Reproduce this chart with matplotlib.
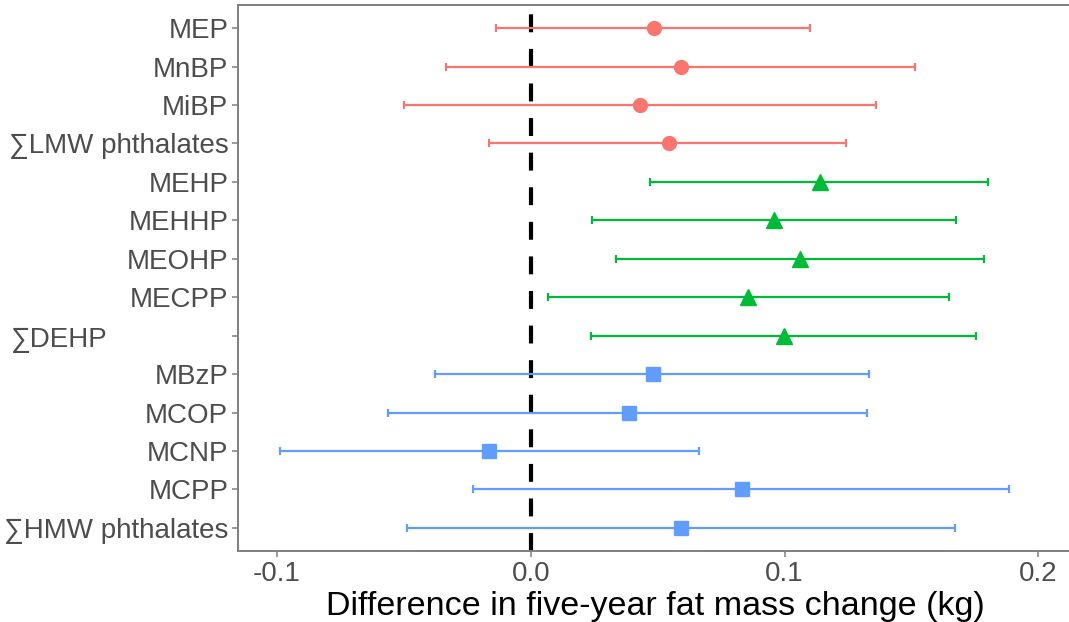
import matplotlib
matplotlib.use("Agg")
import matplotlib.pyplot as plt
from matplotlib.transforms import blended_transform_factory

plt.rcParams["font.family"] = ["Liberation Sans", "DejaVu Sans"]

# Phthalate metabolites, top to bottom
labels = ["MEP", "MnBP", "MiBP", "∑LMW phthalates",
          "MEHP", "MEHHP", "MEOHP", "MECPP", "∑DEHP",
          "MBzP", "MCOP", "MCNP", "MCPP", "∑HMW phthalates"]
groups = ["LMW"] * 4 + ["DEHP"] * 5 + ["HMW"] * 5

est = [0.0485, 0.0592, 0.0431, 0.0545,
       0.1138, 0.0959, 0.1062, 0.0857, 0.0997,
       0.0480, 0.0385, -0.0165, 0.0830, 0.0593]
lower = [-0.0137, -0.0334, -0.0500, -0.0164,
         0.0468, 0.0242, 0.0335, 0.0069, 0.0236,
         -0.0376, -0.0562, -0.0987, -0.0228, -0.0489]
upper = [0.1100, 0.1514, 0.1360, 0.1240,
         0.1800, 0.1674, 0.1784, 0.1647, 0.1755,
         0.1334, 0.1323, 0.0661, 0.1882, 0.1670]

colores = {"LMW": "#F8766D", "DEHP": "#00BA38", "HMW": "#619CFF"}
marcadores = {"LMW": ("o", 10), "DEHP": ("^", 11), "HMW": ("s", 9.5)}

fig = plt.figure(figsize=(10.69, 6.22), dpi=100)
ax = fig.add_axes([238 / 1069, 71 / 622, 835 / 1069, 546 / 622])

n = len(labels)
for i in range(n):
    y = n - 1 - i
    g = groups[i]
    ax.errorbar(est[i], y,
                xerr=[[est[i] - lower[i]], [upper[i] - est[i]]],
                fmt=marcadores[g][0], color=colores[g],
                markersize=marcadores[g][1], elinewidth=1.6,
                capsize=2.6, capthick=1.6, zorder=3)

ax.axvline(0, color="black", linewidth=3.0,
           linestyle=(0, (4.3, 4.0)), zorder=2)

ax.set_xlim(-0.1154, 0.2136)
ax.set_ylim(-0.6, n - 0.4)

ax.set_xticks([-0.1, 0.0, 0.1, 0.2])
ax.set_xticklabels(["-0.1", "0.0", "0.1", "0.2"])
ax.set_yticks(range(n))
ytl = [labels[n - 1 - k] for k in range(n)]
ytl[n - 1 - 8] = ""  # ∑DEHP is drawn separately below
ax.set_yticklabels(ytl)

ax.tick_params(axis="both", labelsize=20, labelcolor="#4D4D4D",
               color="#7F7F7F", length=4, width=1.1, pad=3)

trans = blended_transform_factory(fig.transFigure, ax.transData)
fig.text(11 / 1069, n - 1 - 8 - 0.1, "∑DEHP", transform=trans,
         fontsize=20, color="#4D4D4D", ha="left", va="center")

ax.set_xlabel("Difference in five-year fat mass change (kg)",
              fontsize=24.5, color="black", labelpad=3)

for s in ["left", "bottom", "top", "right"]:
    ax.spines[s].set_color("#7F7F7F")
    ax.spines[s].set_linewidth(1.4)

fig.savefig("out.png", dpi=100)
